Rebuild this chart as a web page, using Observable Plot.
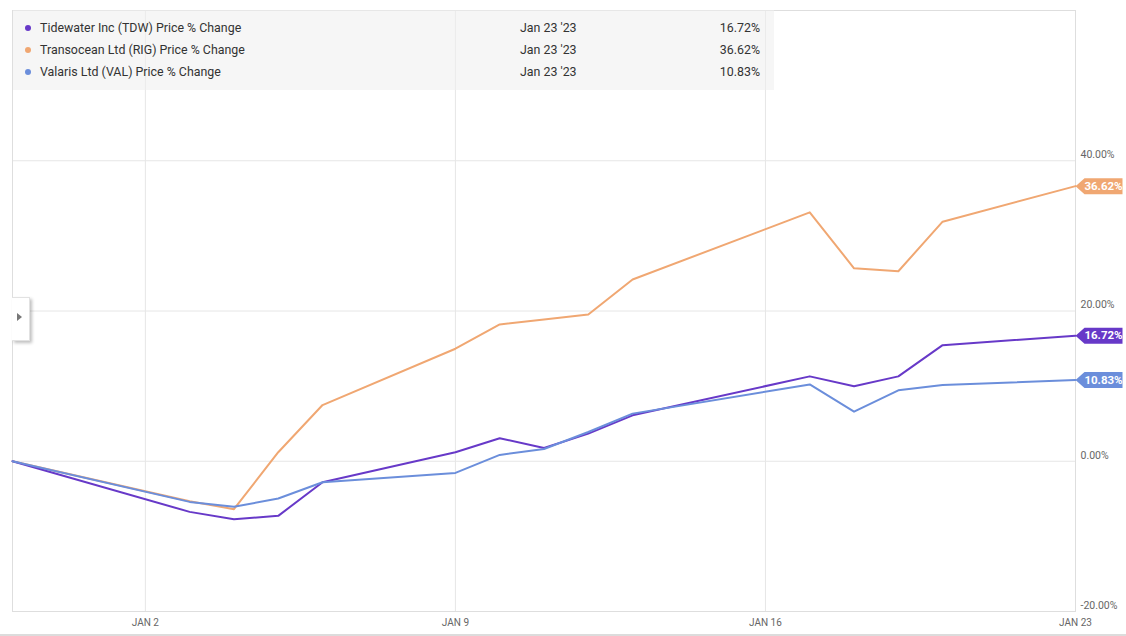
<!DOCTYPE html>
<html>
<head>
<meta charset="utf-8">
<script src="https://cdn.jsdelivr.net/npm/d3@7"></script>
<script src="https://cdn.jsdelivr.net/npm/@observablehq/plot@0.6"></script>
<style>
  html, body { margin: 0; padding: 0; background: #fff; }
  body { width: 1126px; height: 636px; position: relative; overflow: hidden; font-family: Roboto, "Noto Sans", sans-serif; }
  #chart { position: absolute; left: 0; top: 0; }
  #legend { position: absolute; left: 13px; top: 10px; width: 761px; height: 80px; background: rgba(238,238,238,0.55); font-size: 12.4px; color: #333; }
  .row { position: absolute; left: 0; height: 22px; line-height: 22px; width: 761px; }
  .dot { position: absolute; left: 12px; top: 8px; width: 6px; height: 6px; border-radius: 50%; }
  .name { position: absolute; left: 27px; }
  .date { position: absolute; left: 507px; }
  .val { position: absolute; right: 14px; }
  #bottomline { position: absolute; left: 0; top: 634px; width: 1126px; height: 2px; background: #dcdcdc; }
  #toggle { position: absolute; left: 12px; top: 297px; width: 18px; height: 44px; background: #fff; box-shadow: 2px 2px 3px rgba(0,0,0,0.25); border: 1px solid #e2e2e2; border-left: none; box-sizing: border-box; }
  #toggle span { position: absolute; left: 5px; top: 15px; width: 0; height: 0; border-top: 4px solid transparent; border-bottom: 4px solid transparent; border-left: 5px solid #777; }
</style>
</head>
<body>
<div id="chart"></div>
<div id="legend"></div>
<div id="toggle"><span></span></div>
<div id="bottomline"></div>
<script>
// ---- data ----
const dates = ["2022-12-30","2023-01-03","2023-01-04","2023-01-05","2023-01-06","2023-01-09","2023-01-10","2023-01-11","2023-01-12","2023-01-13","2023-01-17","2023-01-18","2023-01-19","2023-01-20","2023-01-23"];
const tdw = [0, -6.74, -7.71, -7.27, -2.79, 1.20, 3.06, 1.77, 3.68, 6.11, 11.30, 9.97, 11.30, 15.45, 16.72];
const rig = [0, -5.32, -6.38, 1.20, 7.48, 14.98, 18.21, 18.87, 19.53, 24.19, 33.13, 25.69, 25.29, 31.89, 36.62];
const val = [0, -5.41, -6.07, -4.96, -2.79, -1.55, 0.84, 1.63, 3.89, 6.34, 10.23, 6.60, 9.44, 10.14, 10.83];
const seriesNames = ["Tidewater Inc (TDW) Price % Change", "Transocean Ltd (RIG) Price % Change", "Valaris Ltd (VAL) Price % Change"];
const seriesKeys = ["TDW", "RIG", "VAL"];
const seriesColors = ["#6739c8", "#f0a772", "#6b8edb"];
const lastDateLabel = "Jan 23 '23";
const xTicks = ["2023-01-02","2023-01-09","2023-01-16","2023-01-23"];
const xTickLabels = ["JAN 2","JAN 9","JAN 16","JAN 23"];
const yTicks = [-20, 0, 20, 40];
const xDomain = ["2022-12-30","2023-01-23"];
const yDomain = [-20, 60];

// ---- build table ----
const valuesByKey = {TDW: tdw, RIG: rig, VAL: val};
const colorByKey = Object.fromEntries(seriesKeys.map((k, i) => [k, seriesColors[i]]));
const rows = [];
seriesKeys.forEach(k => valuesByKey[k].forEach((v, i) => rows.push({key: k, date: new Date(dates[i]), value: v})));
const lastRows = seriesKeys.map(k => ({key: k, date: new Date(dates[dates.length - 1]), value: valuesByKey[k][valuesByKey[k].length - 1]}));
const drawOrder = ["RIG", "TDW", "VAL"];

const tagSymbol = {
  draw(ctx) {
    ctx.moveTo(0, 0);
    ctx.lineTo(9, -8);
    ctx.lineTo(47, -8);
    ctx.lineTo(47, 8);
    ctx.lineTo(9, 8);
    ctx.closePath();
  }
};

const tickLabelMap = new Map(xTicks.map((d, i) => [+new Date(d), xTickLabels[i]]));

const chart = Plot.plot({
  width: 1126,
  height: 636,
  marginLeft: 12,
  marginRight: 51,
  marginTop: 10,
  marginBottom: 25,
  style: {fontFamily: "Roboto, sans-serif", background: "transparent", overflow: "visible"},
  x: {type: "utc", domain: xDomain.map(d => new Date(d))},
  y: {domain: yDomain},
  marks: [
    Plot.ruleY(yTicks, {stroke: "#e6e6e6", strokeWidth: 1}),
    Plot.ruleX(xTicks.slice(0, 3).map(d => new Date(d)), {stroke: "#e6e6e6", strokeWidth: 1}),
    Plot.frame({stroke: "#dedede", strokeWidth: 1}),
    Plot.axisY({anchor: "right", ticks: yTicks, tickSize: 0, tickPadding: 5, dy: -6, textAnchor: "start",
      tickFormat: d => d.toFixed(2) + "%", fill: "#666", fontSize: 10.5, label: null}),
    Plot.axisX({anchor: "bottom", ticks: xTicks.map(d => new Date(d)), tickSize: 0, tickPadding: 7,
      tickFormat: d => tickLabelMap.get(+d), fill: "#666", fontSize: 10, label: null}),
    ...drawOrder.map(k => Plot.line(rows.filter(r => r.key === k), {x: "date", y: "value", stroke: colorByKey[k], strokeWidth: 2})),
    Plot.dot(lastRows, {x: "date", y: "value", fill: d => colorByKey[d.key], stroke: "none", symbol: tagSymbol, r: 5}),
    Plot.text(lastRows, {x: "date", y: "value", text: d => d.value.toFixed(2) + "%", dx: 28, fill: "white",
      fontWeight: "bold", fontSize: 11.5, textAnchor: "middle"})
  ]
});
document.getElementById("chart").append(chart);

// ---- legend ----
const legend = document.getElementById("legend");
seriesKeys.forEach((k, i) => {
  const row = document.createElement("div");
  row.className = "row";
  row.style.top = (7 + i * 22) + "px";
  const v = valuesByKey[k][valuesByKey[k].length - 1];
  row.innerHTML = `<span class="dot" style="background:${seriesColors[i]}"></span><span class="name">${seriesNames[i]}</span><span class="date">${lastDateLabel}</span><span class="val">${v.toFixed(2)}%</span>`;
  legend.append(row);
});
</script>
</body>
</html>
